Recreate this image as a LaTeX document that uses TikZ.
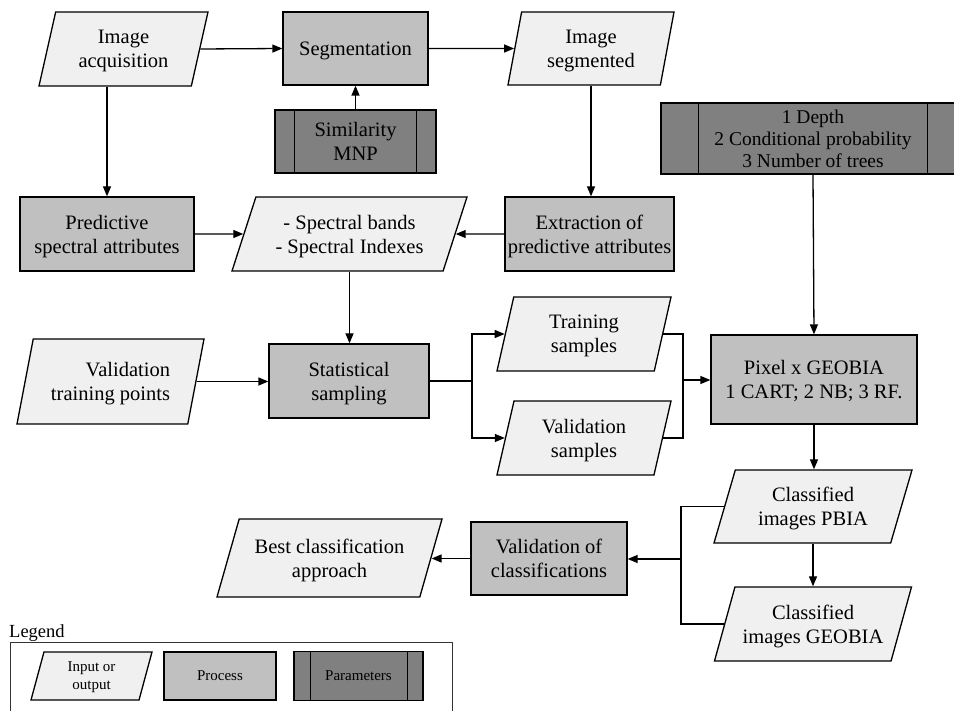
\documentclass[tikz,border=0pt]{standalone}
\usepackage{fontspec}
\setmainfont{Liberation Serif}
\usetikzlibrary{shapes.geometric,arrows.meta}
\definecolor{iofill}{HTML}{F0F0F0}
\definecolor{procfill}{HTML}{C0C0C0}
\definecolor{parfill}{HTML}{808080}
\begin{document}
\begin{tikzpicture}[x=1pt,y=-1pt,
  every node/.style={font=\fontsize{20.5}{24}\selectfont, align=center, inner sep=0pt, text depth=0pt},
  box/.style={draw=black, line width=1.3pt},
  io/.style={box, fill=iofill, shape=trapezium, trapezium stretches body},
  proc/.style={box, fill=procfill, shape=rectangle},
  param/.style={box, fill=parfill, shape=rectangle},
  conn/.style={line width=1.3pt},
  arr/.style={conn, -{Triangle[length=10pt,width=8pt]}},
  legendline/.style={line width=0.9pt, draw=black!80}
]
\useasboundingbox (0,0) rectangle (954,711);

% top row
\node (acq) [io, trapezium left angle=66, trapezium right angle=114, minimum width=169pt, minimum height=74pt] at (123.5,49) {Image\\acquisition};
\node (seg) [proc, minimum width=145pt, minimum height=73pt] at (355.5,48.5) {Segmentation};
\node (sim) [param, minimum width=161pt, minimum height=63pt] at (355.5,141.5) {Similarity\\MNP};
\draw[box] ([xshift=20pt]sim.north west) -- ([xshift=20pt]sim.south west);
\draw[box] ([xshift=-20pt]sim.north east) -- ([xshift=-20pt]sim.south east);
\node (segd) [io, trapezium left angle=70, trapezium right angle=110, minimum width=166pt, minimum height=73pt] at (591,48.5) {Image\\segmented};
\node (par) [param, minimum width=304pt, minimum height=71pt, font=\fontsize{19.5}{22}\selectfont] at (813,138.5) {1 Depth\\2 Conditional probability\\3 Number of trees};
\draw[box] ([xshift=38pt]par.north west) -- ([xshift=38pt]par.south west);
\draw[box] ([xshift=-38pt]par.north east) -- ([xshift=-38pt]par.south east);

% second row
\node (pred) [proc, minimum width=174pt, minimum height=74pt] at (107,234) {Predictive\\spectral attributes};
\node (spec) [io, trapezium left angle=58, trapezium right angle=122, minimum width=235pt, minimum height=74pt] at (349.5,234) {- Spectral bands\\- Spectral Indexes};
\node (ext) [proc, minimum width=169pt, minimum height=74pt] at (589.5,234) {Extraction of\\predictive attributes};

% third row
\node (vtp) [io, align=right, trapezium left angle=67, trapezium right angle=113, minimum width=187pt, minimum height=85pt] at (110.5,381.5) {Validation\\training points};
\node (stat) [proc, minimum width=160pt, minimum height=74pt] at (349,381) {Statistical\\sampling};
\node (train) [io, trapezium left angle=66, trapezium right angle=114, minimum width=174pt, minimum height=74pt] at (584,334) {Training\\samples};
\node (val) [io, trapezium left angle=66, trapezium right angle=114, minimum width=174pt, minimum height=74pt] at (584,438) {Validation\\samples};
\node (pix) [proc, minimum width=206pt, minimum height=89pt] at (814,379.5) {Pixel x GEOBIA\\1 CART; 2 NB; 3 RF.};

% bottom
\node (pbia) [io, trapezium left angle=61, trapezium right angle=119, minimum width=198pt, minimum height=73pt] at (813,506.5) {Classified\\images PBIA};
\node (geo) [io, trapezium left angle=62, trapezium right angle=118, minimum width=197pt, minimum height=74pt] at (813,624) {Classified\\images GEOBIA};
\node (valc) [proc, minimum width=156pt, minimum height=73pt] at (549,558.5) {Validation of\\classifications};
\node (best) [io, trapezium left angle=60, trapezium right angle=120, minimum width=225pt, minimum height=78pt] at (329.5,558) {Best classification\\approach};

% connector points
\coordinate (sp) at (472,381);
\coordinate (jn) at (683,380);
\coordinate (jl) at (681,559);

% connectors
\draw[arr] (acq.east) -- (seg.west);
\draw[arr] (sim.north) -- (seg.south);
\draw[arr] (seg.east) -- (segd.west);
\draw[arr] (acq.south -| pred.north) -- (pred.north);
\draw[arr] (segd.south) -- (segd.south |- ext.north);
\draw[arr] (pred.east) -- (spec.west);
\draw[arr] (ext.west) -- (spec.east);
\draw[arr] (spec.south) -- (spec.south |- stat.north);
\draw[arr] (vtp.east) -- (vtp.east -| stat.west);
\draw[conn] (stat.east) -- (sp);
\draw[arr] (sp) |- (train.west);
\draw[arr] (sp) |- (val.west);
\draw[conn] (train.east) -| (jn);
\draw[conn] (val.east) -| (jn);
\draw[arr] (jn) -- (jn -| pix.west);
\draw[arr] (par.south) -- (pix.north);
\draw[arr] (pix.south) -- (pix.south |- pbia.north);
\draw[arr] (pbia.south) -- (pbia.south |- geo.north);
\draw[conn] (pbia.west) -| (jl);
\draw[conn] (geo.west) -| (jl);
\draw[arr] (jl) -- (jl -| valc.east);
\draw[arr] (valc.west) -- (valc.west -| best.east);

% legend
\node (lgt) [anchor=base west, font=\fontsize{18.5}{22}\selectfont] at (9,637) {Legend};
\coordinate (lg1) at (10,713);
\coordinate (lg2) at (10,642);
\coordinate (lg3) at (452,642);
\coordinate (lg4) at (452,713);
\draw[legendline] (lg1) -- (lg2) -- (lg3) -- (lg4);
\node (lio) [io, font=\fontsize{15}{18}\selectfont, trapezium left angle=65, trapezium right angle=115, minimum width=121pt, minimum height=48pt] at (91.5,676) {Input or\\output};
\node (lproc) [proc, font=\fontsize{15}{18}\selectfont, minimum width=112pt, minimum height=48pt] at (220,676) {Process};
\node (lpar) [param, font=\fontsize{15}{18}\selectfont, minimum width=129pt, minimum height=49pt] at (358.5,676) {Parameters};
\draw[box] ([xshift=17pt]lpar.north west) -- ([xshift=17pt]lpar.south west);
\draw[box] ([xshift=-16pt]lpar.north east) -- ([xshift=-16pt]lpar.south east);
\end{tikzpicture}
\end{document}
